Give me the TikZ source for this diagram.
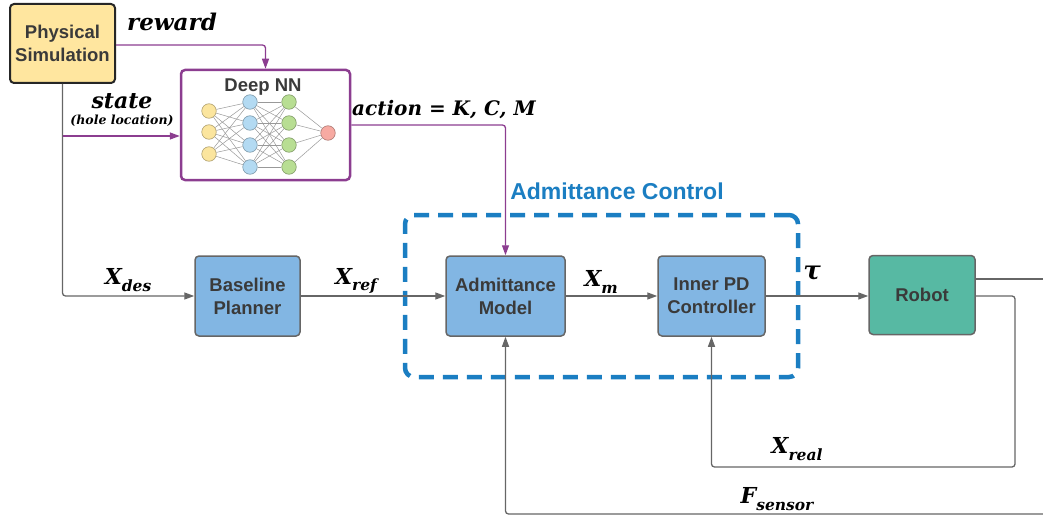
\documentclass[tikz,border=0pt]{standalone}
\usepackage{fontspec}
\setsansfont{Liberation Sans}
\newfontfamily\lblfont{DejaVu Serif}
\usetikzlibrary{arrows.meta,calc}
\definecolor{linegray}{HTML}{666666}
\definecolor{txtgray}{HTML}{3A3A3A}
\definecolor{simfill}{HTML}{FFE69F}
\definecolor{boxblue}{HTML}{82B6E3}
\definecolor{robotgreen}{HTML}{57B9A3}
\definecolor{purp}{HTML}{8C3D90}
\definecolor{ctrlblue}{HTML}{1B7EC2}
\definecolor{nyel}{HTML}{FBE59E}
\definecolor{nblu}{HTML}{B3DAF2}
\definecolor{ngrn}{HTML}{B8DE93}
\definecolor{nred}{HTML}{F7AAA2}
\newcommand{\lsub}[1]{\raisebox{-0.3em}{\fontsize{15.5}{16}\selectfont #1}}
\begin{document}
\begin{tikzpicture}[x=1pt,y=-1pt,
  boxlbl/.style={font=\fontsize{18.5}{23}\selectfont\sffamily\bfseries, text=txtgray, align=center},
  blockbox/.style={boxlbl, draw=linegray, line width=1.5pt, rounded corners=4pt, fill=boxblue},
  simbox/.style={boxlbl, draw=black!85, line width=2pt, rounded corners=4pt, fill=simfill},
  gwire/.style={draw=linegray, line width=1.3pt, rounded corners=3pt},
  pwire/.style={draw=purp, line width=1.3pt, rounded corners=3pt},
  tip/.style={-{Triangle[length=10pt,width=7pt]}},
  mlbl/.style={font=\fontsize{22}{24}\selectfont\lblfont\bfseries\itshape, text=black, inner sep=1pt},
  nnode/.style={circle, minimum size=14.5pt, inner sep=0pt, line width=0.6pt},
  nedge/.style={draw=gray!80, line width=0.5pt}
]
\useasboundingbox (0,0) rectangle (1043,516);

% blocks
\node[simbox, minimum width=105pt, minimum height=79pt] (sim) at (62.5,43.5) {Physical\\Simulation};
\node[draw=purp, line width=2.5pt, rounded corners=4pt, fill=white, minimum width=169pt, minimum height=110pt] (nn) at (265.5,125) {};
\node[boxlbl] (nntitle) at (263,87.5) {Deep NN};
\node[blockbox, minimum width=105pt, minimum height=80pt] (base) at (247.5,296) {Baseline\\Planner};
\node[draw=ctrlblue, dash pattern=on 15pt off 9pt, line width=4.5pt, rounded corners=9pt, minimum width=393pt, minimum height=162pt] (ctrl) at (601.5,296) {};
\node[font=\fontsize{23}{26}\selectfont\sffamily\bfseries, text=ctrlblue] (ctrllbl) at (617,191) {Admittance Control};
\node[blockbox, minimum width=119pt, minimum height=80pt] (adm) at (505.5,296) {Admittance\\Model};
\node[blockbox, minimum width=107pt, minimum height=80pt] (pd) at (711.5,296) {Inner PD\\Controller};
\node[blockbox, fill=robotgreen, minimum width=106pt, minimum height=79pt] (robot) at (922,295) {Robot};

% neural net
\foreach \y [count=\i] in {111,132,154} \node[nnode, fill=nyel, draw=nyel!70!black] (a\i) at (209,\y) {};
\foreach \y [count=\i] in {102,123,145,167} \node[nnode, fill=nblu, draw=nblu!70!black] (b\i) at (250,\y) {};
\foreach \y [count=\i] in {102,123,145,167} \node[nnode, fill=ngrn, draw=ngrn!70!black] (c\i) at (289,\y) {};
\node[nnode, fill=nred, draw=nred!70!black] (d1) at (328,133) {};
\foreach \i in {1,2,3} \foreach \j in {1,2,3,4} \draw[nedge] (a\i) -- (b\j);
\foreach \i in {1,2,3,4} \foreach \j in {1,2,3,4} \draw[nedge] (b\i) -- (c\j);
\foreach \i in {1,2,3,4} \draw[nedge] (c\i) -- (d1);

% labels
\node[mlbl, font=\fontsize{23}{24}\selectfont\lblfont\bfseries\itshape] (lrew) at (172,22) {reward};
\node[mlbl] (lstate) at (122,101) {state};
\node[mlbl, font=\fontsize{12.5}{15}\selectfont\lblfont\bfseries\itshape] (lhole) at (122,121) {(hole location)};
\node[mlbl, font=\fontsize{20}{24}\selectfont\lblfont\bfseries\itshape, anchor=west] (lact) at (351,110) {action {\upshape=} K, C, M};
\node[mlbl] (ldes) at (128,280) {X\lsub{des}};
\node[mlbl] (lref) at (356,281) {X\lsub{ref}};
\node[mlbl] (lm) at (601,282) {X\lsub{m}};
\node[mlbl, font=\fontsize{26}{28}\selectfont\lblfont\bfseries\itshape] (ltau) at (812,273) {τ};
\node[mlbl] (lreal) at (797,449) {X\lsub{real}};
\node[mlbl] (lsens) at (777,499) {F\lsub{sensor}};

% connectors
\draw[pwire, tip] ($(sim.east)+(0,1.5)$) -| (nn.north);
\draw[gwire, tip] (sim.south) |- (base.west);
\coordinate (stY) at (0,136);
\draw[pwire, tip] (sim.south |- stY) -- (nn.west |- stY);
\draw[pwire, tip] (nn.east) -| (adm.north);
\draw[gwire, tip] (base.east) -- (adm.west);
\draw[gwire, tip] (adm.east) -- (pd.west);
\draw[gwire, tip] (pd.east |- base.east) -- (robot.west |- base.east);
\coordinate (out1) at (1043,279);
\draw[gwire] (robot.east |- out1) -- (out1);
\coordinate (fb1) at (1015,467);
\draw[gwire, tip] (robot.east |- base.east) -| (fb1) -| (pd.south);
\coordinate (fb2) at (1043,514);
\draw[gwire, tip] (fb2) -| (adm.south);
\end{tikzpicture}
\end{document}
